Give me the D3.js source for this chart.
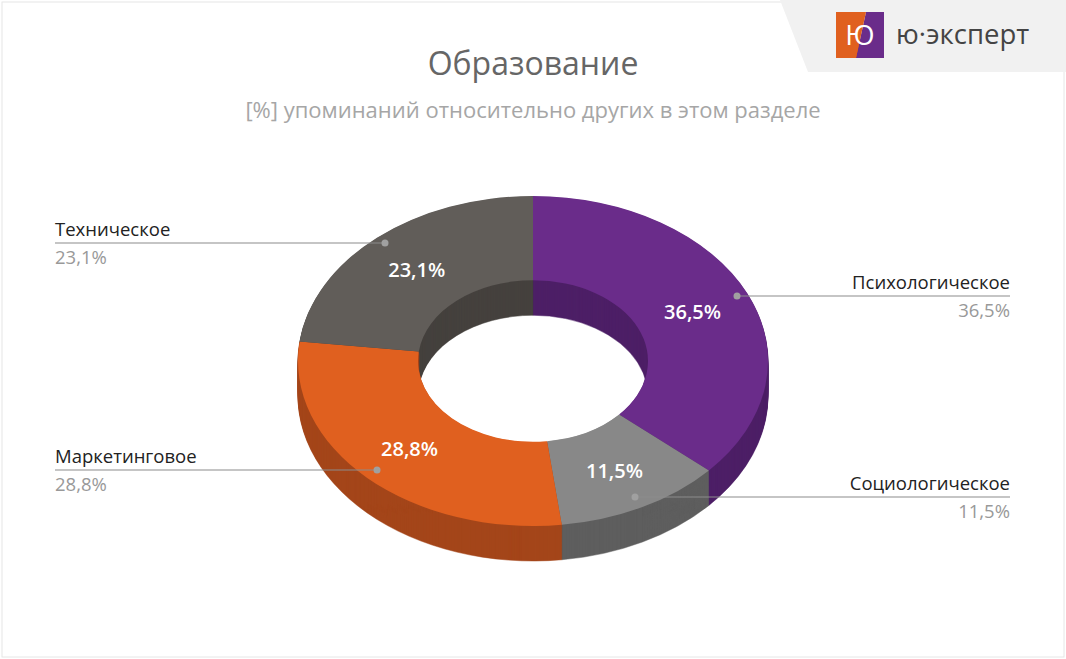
<!DOCTYPE html>
<html><head><meta charset="utf-8">
<script src="https://cdn.jsdelivr.net/npm/d3@7"></script>
<style>body{margin:0;background:#fff;font-family:"Open Sans",sans-serif}</style>
</head><body>
<svg id="chart" width="1066" height="659"></svg>
<script>
var categories = ["Психологическое", "Социологическое", "Маркетинговое", "Техническое"];
var values = [36.5, 11.5, 28.8, 23.1];
var topColors = ["#6a2c8a", "#888888", "#e0601f", "#615d59"];
var sideColors = ["#4d1f66", "#5e5e5e", "#a4461a", "#45413e"];
var valueLabels = ["36,5%", "11,5%", "28,8%", "23,1%"];

var svg = d3.select("#chart");
var cx = 533, cy = 361, rx = 235, ry = 165, k = ry / rx, depth = 35;

svg.append("rect").attr("x", 2).attr("y", 2).attr("width", 1062).attr("height", 655)
  .attr("fill", "#fff").attr("stroke", "#e6e6e6");

// logo
svg.append("path").attr("d", "M780,0 L1066,0 L1066,72 L808,72 Z").attr("fill", "#f1f1f1");
svg.append("rect").attr("x", 836).attr("y", 12).attr("width", 24).attr("height", 46).attr("fill", "#e0601f");
svg.append("path").attr("d", "M866,12 L884,12 L884,58 L856,58 Z").attr("fill", "#6a2c8a");
svg.append("path").attr("d", "M860,12 L866,12 L856,58 L850,58 Z").attr("fill", "#e0601f");
svg.append("text").attr("x", 860).attr("y", 45).attr("text-anchor", "middle").attr("fill", "#fff")
  .attr("font-size", 28).text("Ю");
svg.append("text").attr("x", 896).attr("y", 44).attr("fill", "#444").attr("font-size", 27.5).text("ю·эксперт");

svg.append("text").attr("x", 533).attr("y", 75).attr("text-anchor", "middle").attr("fill", "#666")
  .attr("font-size", 32).text("Образование");
svg.append("text").attr("x", 533).attr("y", 118).attr("text-anchor", "middle").attr("fill", "#a6a6a6")
  .attr("font-size", 22).text("[%] упоминаний относительно других в этом разделе");

var pie = d3.pie().sort(null).value(function(d){ return d; });
var arcs = pie(values);
var arc = d3.arc().innerRadius(115).outerRadius(rx);

for (var d = depth; d >= 1; d--) {
  svg.append("g").attr("transform", "translate(" + cx + "," + (cy + d) + ") scale(1," + k + ")")
    .selectAll("path").data(arcs).enter().append("path")
    .attr("d", arc).attr("fill", function(p, i){ return sideColors[i]; })
    .attr("stroke", function(p, i){ return sideColors[i]; }).attr("stroke-width", 0.6);
}
svg.append("g").attr("transform", "translate(" + cx + "," + cy + ") scale(1," + k + ")")
  .selectAll("path").data(arcs).enter().append("path")
  .attr("d", arc).attr("fill", function(p, i){ return topColors[i]; });

var labelArc = d3.arc().innerRadius(175).outerRadius(175);
arcs.forEach(function(a, i){
  var c = labelArc.centroid(a);
  svg.append("text").attr("x", cx + c[0]).attr("y", cy + c[1] * k + 8)
    .attr("text-anchor", "middle").attr("fill", "#fff").attr("font-size", 20).attr("font-weight", 600)
    .text(valueLabels[i]);
});

// leader lines
var leaders = [
  {dot:[737,296], x:1010, y:296, anchor:"end"},
  {dot:[635,497], x:1010, y:497, anchor:"end"},
  {dot:[377,470], x:55, y:470, anchor:"start"},
  {dot:[385,243], x:55, y:243, anchor:"start"}
];
leaders.forEach(function(l, i){
  svg.append("line").attr("x1", l.dot[0]).attr("y1", l.y).attr("x2", l.x).attr("y2", l.y)
    .attr("stroke", "#8c8c8c").attr("stroke-width", 1.2);
  svg.append("circle").attr("cx", l.dot[0]).attr("cy", l.dot[1]).attr("r", 3.5).attr("fill", "#a0a0a0");
  svg.append("text").attr("x", l.x).attr("y", l.y - 7).attr("text-anchor", l.anchor)
    .attr("fill", "#222").attr("font-size", 18.5).text(categories[i]);
  svg.append("text").attr("x", l.x).attr("y", l.y + 21).attr("text-anchor", l.anchor)
    .attr("fill", "#999").attr("font-size", 18.5).text(valueLabels[i]);
});
</script>
</body></html>
